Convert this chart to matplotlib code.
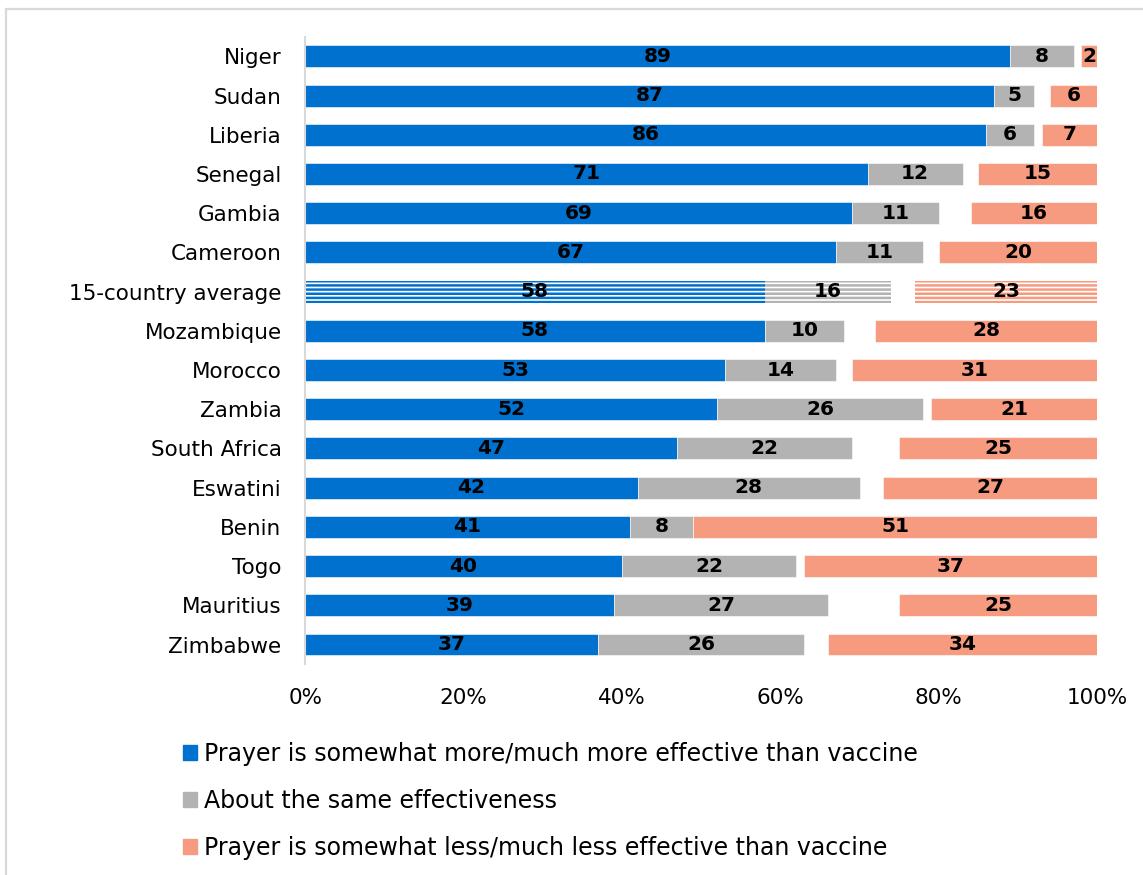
import matplotlib.pyplot as plt
from matplotlib.patches import Rectangle

plt.rcParams['font.family'] = ['DejaVu Sans']
plt.rcParams['hatch.linewidth'] = 1.8

countries = ['Niger', 'Sudan', 'Liberia', 'Senegal', 'Gambia', 'Cameroon',
             '15-country average', 'Mozambique', 'Morocco', 'Zambia',
             'South Africa', 'Eswatini', 'Benin', 'Togo', 'Mauritius', 'Zimbabwe']
more = [89, 87, 86, 71, 69, 67, 58, 58, 53, 52, 47, 42, 41, 40, 39, 37]
same = [8, 5, 6, 12, 11, 11, 16, 10, 14, 26, 22, 28, 8, 22, 27, 26]
less = [2, 6, 7, 15, 16, 20, 23, 28, 31, 21, 25, 27, 51, 37, 25, 34]
legend_labels = ['Prayer is somewhat more/much more effective than vaccine',
                 'About the same effectiveness',
                 'Prayer is somewhat less/much less effective than vaccine']

c_blue = '#0071CE'
c_grey = '#B3B3B3'
c_salm = '#F79B80'

fig = plt.figure(figsize=(11.43, 8.75), dpi=100)
ax = fig.add_axes([0.267, 0.241, 0.693, 0.717])

ys = list(range(len(countries)))
h = 0.56
for i, c in enumerate(countries):
    avg = c == '15-country average'
    # don't know / no answer is left as a blank gap before the salmon bar
    dk = 100 - more[i] - same[i] - less[i]
    lefts = [0, more[i], more[i] + same[i] + dk]
    widths = [more[i], same[i], less[i]]
    for left, w, col in zip(lefts, widths, [c_blue, c_grey, c_salm]):
        if avg:
            ax.barh(i, w, left=left, height=h, facecolor='white', edgecolor=col,
                    hatch='----', linewidth=0)
        else:
            ax.barh(i, w, left=left, height=h, color=col, edgecolor='white', linewidth=0.4)
        ax.text(left + w / 2, i, str(w), ha='center', va='center',
                fontsize=14.5, fontweight='bold', color='black')

ax.set_ylim(len(countries) - 0.5, -0.5)
ax.set_xlim(0, 100)
ax.set_yticks(ys)
ax.set_yticklabels(countries, fontsize=15.5)
ax.set_xticks([0, 20, 40, 60, 80, 100])
ax.set_xticklabels(['0%', '20%', '40%', '60%', '80%', '100%'], fontsize=15.5)
ax.tick_params(length=0)
ax.tick_params(axis='y', pad=17)
ax.tick_params(axis='x', pad=17)
for s in ['top', 'right', 'bottom']:
    ax.spines[s].set_visible(False)
ax.spines['left'].set_color('#D9D9D9')
ax.spines['left'].set_linewidth(1.5)

handles = [Rectangle((0, 0), 1, 1, color=col) for col in [c_blue, c_grey, c_salm]]
fig.legend(handles, legend_labels, loc='upper left', bbox_to_anchor=(0.160, 0.152),
           frameon=False, fontsize=17, borderaxespad=0, borderpad=0,
           handlelength=0.6, handleheight=0.6, handletextpad=0.3, labelspacing=0.98)

fig.add_artist(Rectangle((6 / 1143, -0.05), 1.1, (875 + 44 - 9) / 875, transform=fig.transFigure,
                         fill=False, edgecolor='#D9D9D9', linewidth=1.6))

fig.savefig('out.png', dpi=100)
